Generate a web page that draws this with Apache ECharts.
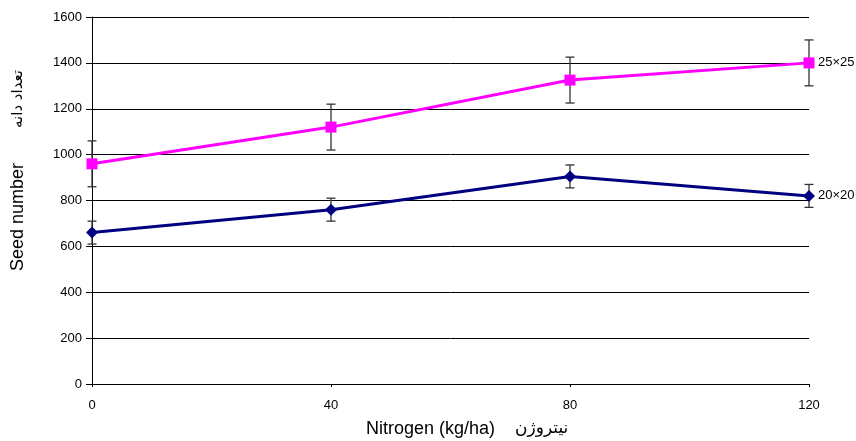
<!DOCTYPE html>
<html>
<head>
<meta charset="utf-8">
<script src="https://cdn.jsdelivr.net/npm/echarts@6/dist/echarts.min.js"></script>
<style>
  html, body { margin: 0; padding: 0; background: #fff; }
  #chart { width: 856px; height: 441px; }
</style>
</head>
<body>
<div id="chart"></div>
<script>
// nitrogen levels (kg/ha)
var nitrogen = [0, 40, 80, 120];
// seed number, plant spacing 25x25
var seed25 = [960, 1120, 1325, 1400];
var err25 = [100, 100, 100, 100];
// seed number, plant spacing 20x20
var seed20 = [660, 760, 905, 820];
var err20 = [50, 50, 50, 50];
var yTicks = [0, 200, 400, 600, 800, 1000, 1200, 1400, 1600];

var chart = echarts.init(document.getElementById('chart'));

function pairs(xs, ys) {
  return xs.map(function (x, i) { return [x, ys[i]]; });
}
function errData(xs, ys, es) {
  return xs.map(function (x, i) { return [x, ys[i] - es[i], ys[i] + es[i]]; });
}
// error bar drawn with custom series
function renderErr(params, api) {
  var lo = api.coord([api.value(0), api.value(1)]);
  var hi = api.coord([api.value(0), api.value(2)]);
  var w = 4.5;
  var st = { stroke: '#333', lineWidth: 1.3 };
  return {
    type: 'group',
    children: [
      { type: 'line', shape: { x1: lo[0], y1: lo[1], x2: hi[0], y2: hi[1] }, style: st },
      { type: 'line', shape: { x1: lo[0] - w, y1: lo[1], x2: lo[0] + w, y2: lo[1] }, style: st },
      { type: 'line', shape: { x1: hi[0] - w, y1: hi[1], x2: hi[0] + w, y2: hi[1] }, style: st }
    ]
  };
}

var font = 'Liberation Sans, Arial, sans-serif';

chart.setOption({
  backgroundColor: '#fff',
  animation: false,
  grid: { left: 92, right: 47, top: 17, bottom: 57 },
  xAxis: {
    type: 'value',
    min: 0, max: 120, interval: 40,
    axisLine: { show: true, lineStyle: { color: '#000', width: 1 } },
    axisTick: { show: true, length: 3, lineStyle: { color: '#000' } },
    axisLabel: { color: '#000', fontSize: 13, fontFamily: font, margin: 15 },
    splitLine: { show: false }
  },
  yAxis: [
    {
      type: 'value',
      min: 0, max: 1600, interval: 200,
      axisLine: { show: true, lineStyle: { color: '#000', width: 1 } },
      axisTick: { show: true, length: 6, lineStyle: { color: '#000' } },
      axisLabel: {
        color: '#000', fontSize: 13, fontFamily: font, margin: 10,
        formatter: function (v) { return yTicks.indexOf(v) >= 0 ? String(v) : ''; }
      },
      splitLine: { show: true, lineStyle: { color: '#000', width: 1 } }
    },
    {
      // inner half of the crossing ticks
      type: 'value', position: 'left',
      min: 0, max: 1600, interval: 200,
      axisLine: { show: false },
      axisTick: { show: true, inside: true, length: 4, lineStyle: { color: '#000' } },
      axisLabel: { show: false },
      splitLine: { show: false }
    }
  ],
  graphic: [
    {
      type: 'text', left: 9, top: 163, rotation: Math.PI / 2,
      style: { text: 'Seed number', font: '18px ' + font, fill: '#000' }
    },
    {
      type: 'text', left: 11, top: 70, rotation: Math.PI / 2,
      style: { text: 'تعداد دانه', font: '15px DejaVu Sans, sans-serif', fill: '#000' }
    },
    {
      type: 'text', left: 366, top: 420,
      style: { text: 'Nitrogen (kg/ha)', font: '18px ' + font, fill: '#000' }
    },
    {
      type: 'text', left: 515, top: 420,
      style: { text: 'نیتروژن', font: '17px DejaVu Sans, sans-serif', fill: '#000' }
    }
  ],
  series: [
    {
      type: 'line', name: '20×20',
      data: pairs(nitrogen, seed20),
      symbol: 'diamond', symbolSize: 12,
      lineStyle: { color: '#000080', width: 3 },
      itemStyle: { color: '#000080' },
      endLabel: { show: true, formatter: '20×20', color: '#000', fontSize: 13, fontFamily: font, distance: 9 },
      z: 3
    },
    {
      type: 'line', name: '25×25',
      data: pairs(nitrogen, seed25),
      symbol: 'rect', symbolSize: 11,
      lineStyle: { color: '#ff00ff', width: 3 },
      itemStyle: { color: '#ff00ff' },
      endLabel: { show: true, formatter: '25×25', color: '#000', fontSize: 13, fontFamily: font, distance: 9 },
      z: 3
    },
    {
      type: 'custom', renderItem: renderErr,
      data: errData(nitrogen, seed20, err20), z: 2, silent: true
    },
    {
      type: 'custom', renderItem: renderErr,
      data: errData(nitrogen, seed25, err25), z: 2, silent: true
    }
  ]
});
</script>
</body>
</html>
